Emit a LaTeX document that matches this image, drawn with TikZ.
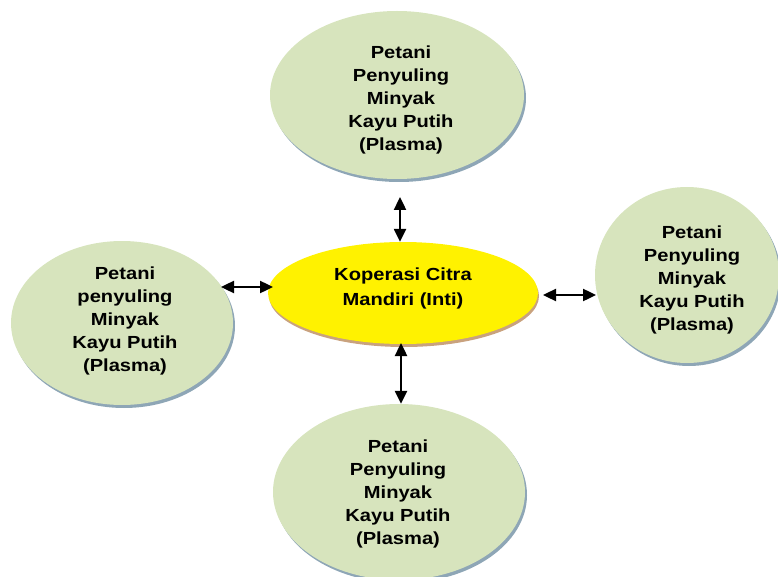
\documentclass[tikz,border=0pt]{standalone}
\usepackage{fontspec}
\setmainfont{Liberation Sans}[FakeStretch=1.15]
\usetikzlibrary{shapes.geometric,arrows.meta,shadows}
\definecolor{plasmagreen}{HTML}{D7E4BD}
\definecolor{shadowblue}{HTML}{8EA6B6}
\definecolor{shadowtan}{HTML}{C9A27E}
\begin{document}
\begin{tikzpicture}[x=1pt,y=-1pt,
  plasma/.style={ellipse,fill=plasmagreen,inner sep=0pt,
    drop shadow={fill=shadowblue,opacity=1,shadow xshift=2pt,shadow yshift=-3pt}},
  inti/.style={ellipse,fill=yellow,inner sep=0pt,
    drop shadow={fill=shadowtan,opacity=1,shadow xshift=1pt,shadow yshift=-3pt}},
  lbl/.style={align=center,font=\fontsize{17.5}{23}\selectfont\bfseries,inner sep=0pt},
  lblmid/.style={align=center,font=\fontsize{17.5}{25}\selectfont\bfseries,inner sep=0pt},
  arr/.style={{Triangle[length=13pt,width=12pt]}-{Triangle[length=13pt,width=12pt]},line width=2.4pt,black}]
\useasboundingbox (0,0) rectangle (778,577);
% ellipses
\node[plasma,minimum width=254pt,minimum height=168pt] (top) at (397,95) {};
\node[inti,minimum width=270pt,minimum height=102pt] (mid) at (403,293) {};
\node[plasma,minimum width=222pt,minimum height=164pt] (left) at (122,323) {};
\node[plasma,minimum width=184pt,minimum height=176pt] (right) at (687,275) {};
\node[plasma,minimum width=252pt,minimum height=176pt] (bottom) at (399,492) {};
% labels
\node[lbl] (topt) at (401,100) {Petani\\Penyuling\\Minyak\\Kayu Putih\\(Plasma)};
\node[lblmid] (midt) at (403,288) {Koperasi Citra\\Mandiri (Inti)};
\node[lbl] (leftt) at (125,321) {Petani\\penyuling\\Minyak\\Kayu Putih\\(Plasma)};
\node[lbl] (rightt) at (692,280) {Petani\\Penyuling\\Minyak\\Kayu Putih\\(Plasma)};
\node[lbl] (bottomt) at (398,494) {Petani\\Penyuling\\Minyak\\Kayu Putih\\(Plasma)};
% connectors
\coordinate (la) at (221,287);
\coordinate (lb) at (273,287);
\coordinate (ra) at (543,295);
\coordinate (rb) at (596,295);
\coordinate (ta) at (400,197);
\coordinate (ba) at (401,343);
\draw[arr] (ta) -- (ta |- mid.north);
\draw[arr] (ba) -- (ba |- bottom.north);
\draw[arr] (la) -- (lb);
\draw[arr] (ra) -- (rb);
\end{tikzpicture}
\end{document}
